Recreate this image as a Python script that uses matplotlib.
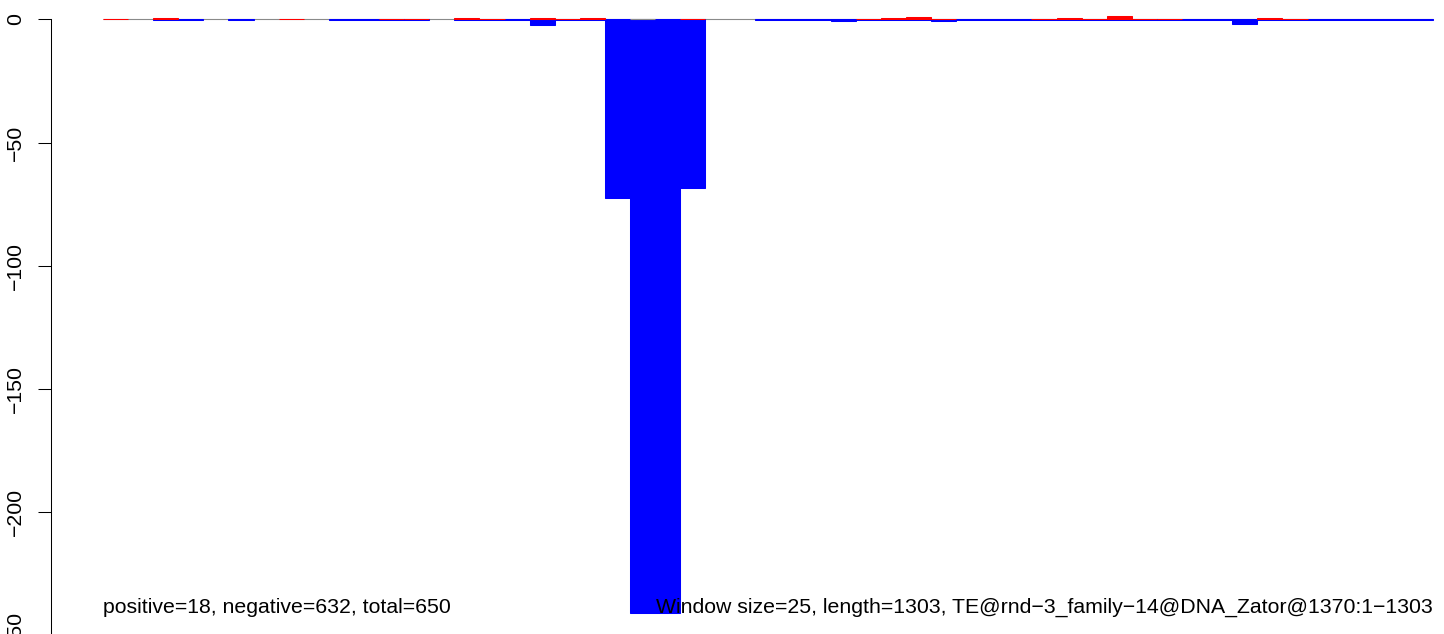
import matplotlib
matplotlib.use("Agg")
import matplotlib.pyplot as plt
import numpy as np

plt.rcParams['font.family'] = ['Liberation Sans', 'DejaVu Sans']

# ---- data -------------------------------------------------------------
window_size = 25
seq_length = 1303
# per-window positive-strand values (upward, red)
pos_values = [0.15, 0, 0.35, 0, 0, 0, 0, 0.15, 0, 0,
              0, 0.15, 0.3, 0, 0.35, 0.25, 0, 0.7, 0.3, 0.55,
              0, 0, 0, 0.15, 0, 0, 0, 0, 0, 0,
              0.3, 0.55, 0.9, 0.3, 0, 0, 0, 0.15, 0.55, 0.3,
              1.3, 0.3, 0.15, 0, 0, 0, 0.55, 0.3, 0, 0,
              0, 0, 0]
# per-window negative-strand values (downward, blue)
neg_values = [0, 0, 0.35, 0.15, 0, 0.35, 0, 0, 0, 0.15,
              0.15, 0.3, 0.15, 0, 0.3, 0.3, 0.15, 2.3, 0.15, 0.15,
              72.4, 240.8, 240.8, 68.3, 0, 0, 0.15, 0.15, 0.3, 0.6,
              0.15, 0.15, 0.3, 0.6, 0.3, 0.15, 0.15, 0.3, 0.15, 0.15,
              0.15, 0.15, 0.25, 0.15, 0.15, 1.9, 0.15, 0.35, 0.15, 0.15,
              0.15, 0.15, 0.15]
gap_windows = [21]
y_ticks = [0, -50, -100, -150, -200, -250]
left_label = "positive=18, negative=632, total=650"
right_label = ("Window size=25, length=1303, "
               "TE@rnd\u22123_family\u221214@DNA_Zator@1370:1\u22121303")

# ---- figure -----------------------------------------------------------
W, H = 1444, 634
fig = plt.figure(figsize=(W / 100, H / 100), dpi=100)

n_win = len(pos_values)
starts = np.arange(n_win) * window_size
x_end = n_win * window_size

px_per_bp = (1433 - 103) / x_end
px_per_unit = 2.464
y0_px = 19.3
ax_left_px, ax_bottom_px = 50.5, H + 10

ax = fig.add_axes([ax_left_px / W, -10 / H, (W - ax_left_px) / W, (H + 10) / H])
ax.set_xlim(-(103 - ax_left_px) / px_per_bp, x_end + (W - 1433) / px_per_bp)
ax.set_ylim(-(ax_bottom_px - y0_px) / px_per_unit, y0_px / px_per_unit)

pos = np.array(pos_values, dtype=float)
neg = np.array(neg_values, dtype=float)

# baseline
ax.plot([0, x_end], [0, 0], color='#8a8a8a', lw=0.8, zorder=1,
        solid_capstyle='butt')

m = neg > 0
ax.bar(starts[m], -neg[m], width=window_size, align='edge', color='#0000FF',
       edgecolor='#0000FF', linewidth=0.75, zorder=2)
m = pos > 0
ax.bar(starts[m], pos[m], width=window_size, align='edge', color='#FF0000',
       edgecolor='#FF0000', linewidth=0.75, zorder=3)

for g in gap_windows:
    ax.plot([starts[g], starts[g] + window_size], [0, 0], color='#8a8a8a',
            lw=0.8, zorder=4, solid_capstyle='butt')

# axes styling (R-like)
for s in ['top', 'right', 'bottom']:
    ax.spines[s].set_visible(False)
ax.spines['left'].set_bounds(min(y_ticks), max(y_ticks))
ax.spines['left'].set_linewidth(0.75)
ax.set_xticks([])
ax.set_yticks(y_ticks)
ax.set_yticklabels([str(t).replace('-', '\u2212') for t in y_ticks])
ax.tick_params(axis='y', length=9.5, width=0.75, pad=9, labelsize=15.3)
for lab in ax.get_yticklabels():
    lab.set_rotation(90)
    lab.set_verticalalignment('center')
    lab.set_horizontalalignment('right')

ymin_bar = -neg.max()
ax.text(0, ymin_bar, left_label, ha='left', va='baseline', fontsize=15.3,
        zorder=5)
ax.text(x_end, ymin_bar, right_label, ha='right', va='baseline', fontsize=15.3,
        zorder=5)

fig.savefig('out.png', dpi=100)
